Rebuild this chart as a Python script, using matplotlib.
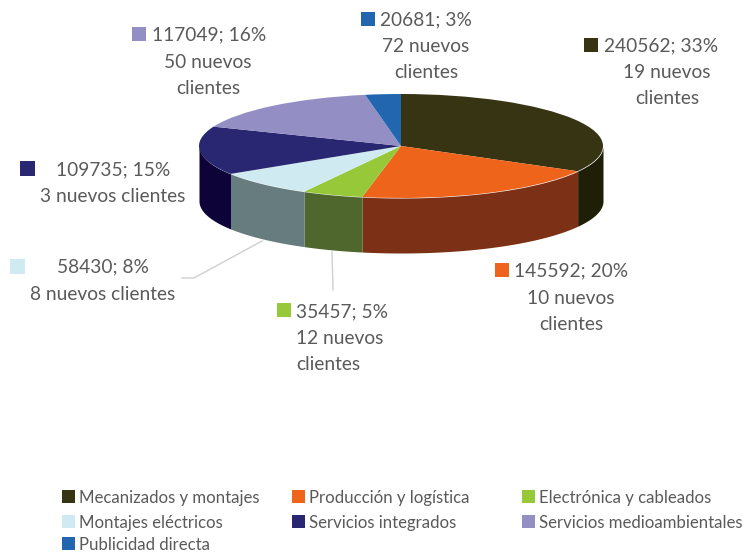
import matplotlib
matplotlib.use('Agg')
import matplotlib.pyplot as plt
import numpy as np
from matplotlib.patches import Rectangle

categories = ['Mecanizados y montajes', 'Producción y logística', 'Electrónica y cableados',
              'Montajes eléctricos', 'Servicios integrados', 'Servicios medioambientales',
              'Publicidad directa']
values = [240562, 145592, 35457, 58430, 109735, 117049, 20681]
percents = [33, 20, 5, 8, 15, 16, 3]
nuevos = [19, 10, 12, 8, 3, 50, 72]

top_colors = ['#363413', '#ee641b', '#96c83a', '#cfeaf0', '#292672', '#938fc4', '#2166ae']
side_colors = ['#1f1f07', '#7c3015', '#4f662d', '#677c7e', '#0e0338', '#0e0338', '#103060']

plt.rcParams['font.family'] = ['Lato', 'DejaVu Sans']
TXT = '#5a5a5a'

W, H = 747, 553
cx, cy, rx, ry, depth = 401, 146, 202, 52, 55

fig = plt.figure(figsize=(W / 100, H / 100), dpi=100)

# pie axes: 1 unit = rx px in x and ry px in y, that squashes the circle
ax = fig.add_axes([0, 0, 1, 1])
ax.pie(values, colors=top_colors, startangle=90, counterclock=False, radius=1,
       wedgeprops={'linewidth': 0})
ax.set_aspect('auto')
ax.set_xlim((0 - cx) / rx, (W - cx) / rx)
ax.set_ylim((cy - H) / ry, cy / ry)

# side wall, only the front half of the rim shows
d = depth / ry
cum = np.cumsum([0] + values) / sum(values)
for i in range(len(values)):
    a0 = 90 - 360 * cum[i]
    a1 = 90 - 360 * cum[i + 1]
    for shift in (0, -360):
        lo = max(a1 + shift, -180)
        hi = min(a0 + shift, 0)
        if hi <= lo:
            continue
        t = np.radians(np.linspace(lo, hi, 80))
        ax.fill_between(np.cos(t), np.sin(t), np.sin(t) - d, color=side_colors[i], linewidth=0)

# overlay in pixel coordinates for labels
ov = fig.add_axes([0, 0, 1, 1])
ov.set_xlim(0, W)
ov.set_ylim(H, 0)
ov.axis('off')
ov.patch.set_alpha(0)


def square(x, y, color, size=14):
    ov.add_patch(Rectangle((x, y), size, size, facecolor=color, edgecolor='none'))


def label(i, sq, first, lines, fs=13.8):
    square(sq[0], sq[1], top_colors[i], sq[2] if len(sq) > 2 else 14)
    txt = f'{values[i]}; {percents[i]}%'
    ov.text(first[0], first[1] + 1, txt, ha=first[2], va='center', color=TXT, fontsize=fs)
    for x, y, ha, s in lines:
        ov.text(x, y + 1, s, ha=ha, va='center', color=TXT, fontsize=fs)


label(0, (584, 38), (604, 45, 'left'),
      [(667, 72, 'center', f'{nuevos[0]} nuevos'), (667, 98, 'center', 'clientes')])
label(1, (495, 263), (514, 270, 'left'),
      [(571, 297, 'center', f'{nuevos[1]} nuevos'), (571, 323, 'center', 'clientes')])
label(2, (277, 303), (296, 311, 'left'),
      [(296, 338, 'left', f'{nuevos[2]} nuevos'), (296, 364, 'left', 'clientes')])
label(3, (10, 259, 15), (103, 266, 'center'),
      [(103, 293, 'center', f'{nuevos[3]} nuevos clientes')])
label(4, (20, 161, 15), (113, 169, 'center'),
      [(113, 196, 'center', f'{nuevos[4]} nuevos clientes')])
label(5, (132, 27), (152, 34, 'left'),
      [(208, 61, 'center', f'{nuevos[5]} nuevos'), (208, 87, 'center', 'clientes')])
label(6, (361, 12), (380, 19, 'left'),
      [(426, 46, 'center', f'{nuevos[6]} nuevos'), (426, 72, 'center', 'clientes')])

# leader lines
ov.plot([182, 194, 262], [278, 278, 241], color='#cfcfcf', lw=1)
ov.plot([332, 333], [252, 290], color='#cfcfcf', lw=1)

# legend
leg_x = [62, 292, 522]
leg_y = [497, 522, 544]
for i, name in enumerate(categories):
    x = leg_x[i % 3]
    y = leg_y[i // 3]
    square(x, y - 7, top_colors[i], 13)
    ov.text(x + 17, y + 1, name, ha='left', va='center', color=TXT, fontsize=12.1)

fig.savefig('out.png', dpi=100)
